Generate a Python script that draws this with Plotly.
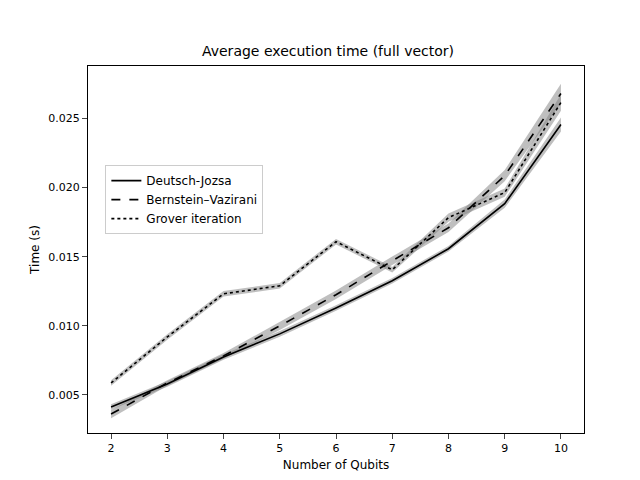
import plotly.graph_objects as go

qubits = [2, 3, 4, 5, 6, 7, 8, 9, 10]

dj_mean = [0.00413, 0.0058, 0.00775, 0.00942, 0.0113, 0.01326, 0.01558, 0.01884, 0.02457]
dj_err = [0.0002, 0.0002, 0.0002, 0.0002, 0.0002, 0.0002, 0.0002, 0.0003, 0.0005]

bv_mean = [0.00362, 0.00587, 0.00783, 0.0100, 0.01225, 0.01471, 0.0171, 0.02087, 0.02681]
bv_err = [0.0003, 0.0002, 0.0002, 0.0003, 0.0003, 0.0003, 0.0003, 0.0004, 0.0007]

gr_mean = [0.00587, 0.0092, 0.01232, 0.0129, 0.01609, 0.01406, 0.01783, 0.01964, 0.02616]
gr_err = [0.0002, 0.0002, 0.0002, 0.0002, 0.0002, 0.0002, 0.0003, 0.0003, 0.0006]

series = [
    ("Deutsch-Jozsa", dj_mean, dj_err, "solid"),
    ("Bernstein\u2013Vazirani", bv_mean, bv_err, "dash"),
    ("Grover iteration", gr_mean, gr_err, "dot"),
]

fig = go.Figure()

for name, mean, err, dash in series:
    upper = [m + e for m, e in zip(mean, err)]
    lower = [m - e for m, e in zip(mean, err)]
    fig.add_trace(go.Scatter(x=qubits + qubits[::-1], y=upper + lower[::-1], fill="toself",
                             mode="lines", fillcolor="rgba(128,128,128,0.5)", line=dict(width=0),
                             showlegend=False, hoverinfo="skip"))

for name, mean, err, dash in series:
    fig.add_trace(go.Scatter(x=qubits, y=mean, name=name, mode="lines",
                             line=dict(color="black", width=1.6, dash=dash)))

fig.update_layout(
    width=640, height=480,
    plot_bgcolor="white", paper_bgcolor="white",
    font=dict(family="DejaVu Sans", size=11, color="black"),
    title=dict(text="Average execution time (full vector)", x=0.5, xanchor="center",
               y=0.91, yanchor="middle", font=dict(size=14)),
    margin=dict(l=80, r=64, t=58, b=55, autoexpand=False),
    legend=dict(x=0.035, y=0.73, xanchor="left", yanchor="top", bgcolor="white",
                bordercolor="#cccccc", borderwidth=1, font=dict(size=12)),
)
fig.update_xaxes(title_text="Number of Qubits", title_font_size=12, title_standoff=6,
                 range=[1.59, 10.41], tickvals=qubits,
                 showgrid=False, showline=True, linecolor="black", mirror=True,
                 ticks="outside", zeroline=False)
fig.update_yaxes(title_text="Time (s)", title_font_size=12, title_standoff=6,
                 range=[0.00225, 0.0288],
                 tickvals=[0.005, 0.010, 0.015, 0.020, 0.025], tickformat=".3f",
                 showgrid=False, showline=True, linecolor="black", mirror=True,
                 ticks="outside", zeroline=False)

fig.write_html("out.html")
